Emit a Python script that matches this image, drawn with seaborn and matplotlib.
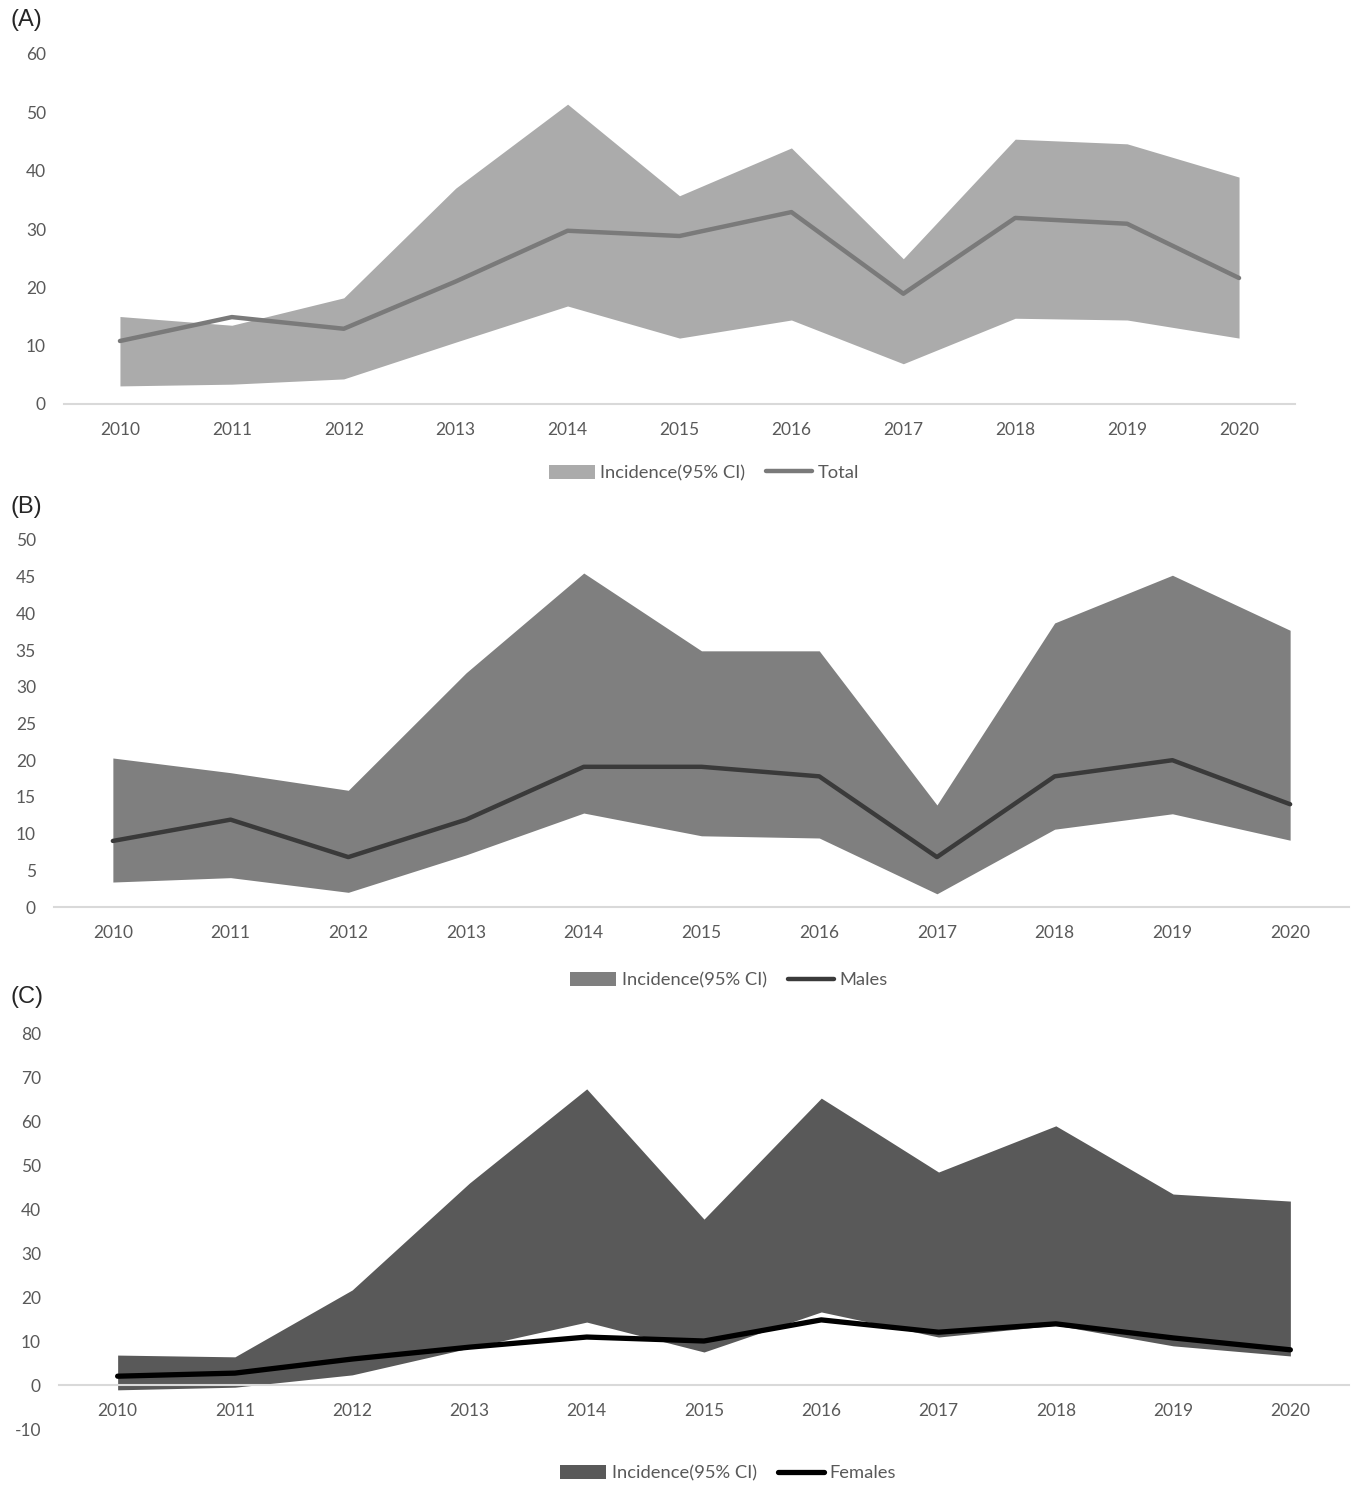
import matplotlib
matplotlib.use('Agg')
import matplotlib.pyplot as plt
import seaborn as sns
from matplotlib.patches import Patch
from matplotlib.lines import Line2D

years = [2010, 2011, 2012, 2013, 2014, 2015, 2016, 2017, 2018, 2019, 2020]

# (A) total
total_rate = [10.8, 14.9, 12.9, 21.0, 29.7, 28.8, 32.9, 18.9, 31.9, 30.9, 21.6]
total_low = [3.1, 3.4, 4.3, 10.6, 16.8, 11.3, 14.4, 6.9, 14.7, 14.4, 11.3]
total_high = [15.0, 13.5, 18.2, 37.0, 51.4, 35.7, 43.9, 24.9, 45.4, 44.6, 38.9]

# (B) males
male_rate = [9.0, 11.9, 6.8, 11.9, 19.1, 19.1, 17.8, 6.8, 17.8, 20.0, 14.0]
male_low = [3.4, 4.0, 2.0, 7.1, 12.8, 9.7, 9.4, 1.8, 10.6, 12.7, 9.1]
male_high = [20.3, 18.3, 15.9, 31.9, 45.5, 34.9, 34.9, 13.9, 38.7, 45.2, 37.7]

# (C) females
female_rate = [2.0, 2.7, 5.9, 8.6, 10.9, 10.0, 14.8, 12.0, 13.9, 10.7, 8.0]
female_low = [-1.1, -0.5, 2.3, 8.4, 14.3, 7.5, 16.6, 10.9, 13.6, 8.9, 6.6]
female_high = [6.8, 6.4, 21.6, 45.9, 67.3, 37.7, 65.2, 48.4, 58.9, 43.4, 41.8]

W, H = 1351, 1485
sns.set_style('white')
plt.rcParams['font.family'] = ['Lato', 'DejaVu Sans']
plt.rcParams['axes.unicode_minus'] = False

fig = plt.figure(figsize=(W / 100, H / 100), dpi=100)

TICK = '#595959'


def px_axes(left, right, top, bottom):
    return fig.add_axes([left / W, 1 - bottom / H, (right - left) / W, (bottom - top) / H])


panels = [
    dict(label='(A)', label_y=20, box=(64, 1295, 54, 404), ylim=(0, 60), step=10,
         rate=total_rate, low=total_low, high=total_high, fill='#ababab', line='#7a7a7a',
         lw=3.2, name='Total', leg=(704, 473)),
    dict(label='(B)', label_y=507, box=(54, 1349, 540, 907), ylim=(0, 50), step=5,
         rate=male_rate, low=male_low, high=male_high, fill='#7f7f7f', line='#3a3a3a',
         lw=3.2, name='Males', leg=(729, 980)),
    dict(label='(C)', label_y=997, box=(59, 1349, 1033, 1429), ylim=(-10, 80), step=10,
         rate=female_rate, low=female_low, high=female_high, fill='#595959', line='#000000',
         lw=3.8, name='Females', leg=(728, 1473)),
]

for p in panels:
    ax = px_axes(*p['box'])
    ax.fill_between(years, p['low'], p['high'], color=p['fill'], linewidth=0)
    sns.lineplot(x=years, y=p['rate'], ax=ax, color=p['line'], linewidth=p['lw'])
    ax.set_xlim(2009.5, 2020.5)
    ax.set_ylim(*p['ylim'])
    ax.set_yticks(range(p['ylim'][0], p['ylim'][1] + 1, p['step']))
    ax.set_xticks(years)
    ax.set_xticklabels([str(y) for y in years])
    for s in ['top', 'right', 'left']:
        ax.spines[s].set_visible(False)
    ax.spines['bottom'].set_position(('data', 0))
    ax.spines['bottom'].set_color('#d9d9d9')
    ax.spines['bottom'].set_linewidth(1.5)
    ax.tick_params(axis='both', length=0, labelsize=12.5, colors=TICK)
    ax.tick_params(axis='x', pad=13)
    ax.tick_params(axis='y', pad=13)
    ax.set_xlabel('')
    ax.set_ylabel('')

    fig.text(10 / W, 1 - p['label_y'] / H, p['label'], fontsize=17,
             family=['Liberation Sans', 'DejaVu Sans'], va='center', ha='left')

    handles = [Patch(facecolor=p['fill'], edgecolor='none'),
               Line2D([0], [0], color=p['line'], linewidth=p['lw'])]
    fig.legend(handles, ['Incidence(95% CI)', p['name']], ncol=2, frameon=False,
               loc='center', bbox_to_anchor=(p['leg'][0] / W, 1 - p['leg'][1] / H),
               fontsize=13.2, labelcolor=TICK, handlelength=2.5, handleheight=0.8,
               handletextpad=0.3, columnspacing=1.15)

fig.savefig('out.png', dpi=100)
